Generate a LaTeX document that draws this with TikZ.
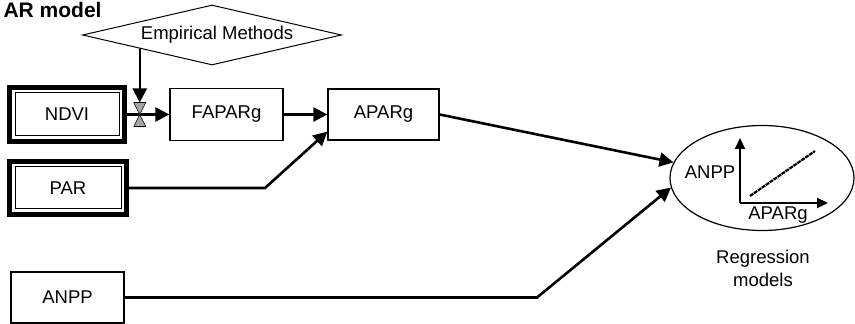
\documentclass[tikz,border=0pt]{standalone}
\usepackage{fontspec}
\setmainfont{Liberation Sans}
\usetikzlibrary{arrows.meta,positioning,fit,calc,shapes.geometric}
\definecolor{vlvGray}{RGB}{165,165,168}

\begin{document}
\begin{tikzpicture}[
  x=1pt, y=1pt,
  font=\fontsize{18.5}{23}\selectfont,
  box/.style={draw, line width=1.2pt, minimum width=112pt, minimum height=51pt, inner sep=0pt},
  inbox/.style={draw, line width=1pt, minimum width=104pt, minimum height=43pt, inner sep=0pt},
  dblframe/.style={draw, line width=4.5pt, inner sep=5pt},
  conn/.style={line width=2.6pt, -{Triangle[length=14pt,width=14pt]}},
  axis/.style={line width=2.2pt, -{Triangle[length=11pt,width=10pt]}},
  ttl/.style={font=\fontsize{21}{25}\selectfont\bfseries}
]
\useasboundingbox (0,0) rectangle (855,324);

%============ INPUTS ============
\node[ttl, anchor=base west] (title) at (0,306) {AR model};
\node[draw, diamond, line width=1pt, aspect=4.3, inner sep=0pt,
      minimum width=259pt, minimum height=60pt] (em) at (212,289) {};
\node at (217,289) (emtxt) {Empirical Methods};

% double framed sources
\node[inbox] (ndvi) at (67,209.5) {NDVI};
\node[dblframe, fit=(ndvi)] (ndviF) {};
\node[inbox, minimum width=106pt, minimum height=42pt] (par) at (68,136) {PAR};
\node[dblframe, fit=(par)] (parF) {};
\node[box, minimum width=113pt] (anpp) at (67.5,26.5) {ANPP};

%============ PRODUCTS ============
\node[box, minimum width=113pt, minimum height=52pt] (fapar) at (226.5,209.5) {FAPARg};
\node[box, minimum width=111pt] (apar) at (383.5,209.5) {APARg};

% valve on the NDVI line
\coordinate (vlv) at ($(ndviF.east)+(13,0)$);
\draw[conn, line width=2.2pt] (ndviF.east) -- (fapar.west);
\filldraw[fill=vlvGray, draw=black, line width=0.6pt] (vlv) -- ++(-6,12) -- ++(12,0) -- cycle;
\filldraw[fill=vlvGray, draw=black, line width=0.6pt] (vlv) -- ++(-6,-12) -- ++(12,0) -- cycle;
\coordinate (emOut) at ($(em.west)!0.43!(em.south)$);
\draw[conn, line width=2.2pt] (vlv |- emOut) -- ($(vlv)+(0,12)$);

\draw[conn] (fapar.east) -- (apar.west);
\coordinate (parBend) at (265,136);
\draw[conn] (parF.east) -- (parBend) -- ($(apar.south west)+(0,9)$);

%============ REGRESSION ============
\node[draw, ellipse, line width=1.2pt, minimum width=184pt, minimum height=105pt, inner sep=0pt] (reg) at (762,146) {};
\coordinate (org) at (740,121);
\draw[axis] (org) -- ++(0,65);
\draw[axis] (org) -- ++(88,0);
\draw[line width=2.2pt, dash pattern=on 4pt off 0.8pt] (750,128) -- (815,173);
\node (yl) at (710,152) {ANPP};
\node (xl) at (778,109) {APARg};
\node[align=center] (regtxt) at (763,55.5) {Regression\\models};

\draw[conn] (apar.east) -- (reg.170);
\coordinate (anppBend) at (537,26.5);
\draw[conn] (anpp.east) -- (anppBend) -- (reg.186);

\end{tikzpicture}
\end{document}
